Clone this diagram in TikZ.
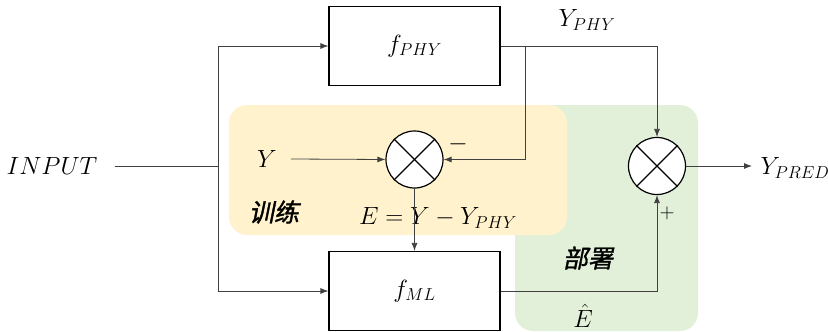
\documentclass[tikz,border=0pt]{standalone}
\usepackage{fontspec}
\newfontfamily\cjk[FakeSlant=0.2,AutoFakeBold=1.5]{Noto Sans CJK SC}
\usetikzlibrary{arrows.meta}
\definecolor{trainbg}{HTML}{FFF2CC}
\definecolor{deploybg}{HTML}{E2F0D9}
\definecolor{wire}{HTML}{404040}
\tikzset{
  blk/.style={draw=black,line width=1.2pt,minimum width=171pt,minimum height=79pt,inner sep=0pt,font=\fontsize{26}{30}\selectfont},
  mixer/.style={draw=black,line width=1.2pt,circle,minimum size=57pt,inner sep=0pt,fill=white},
  lbl/.style={inner sep=0pt,font=\fontsize{25}{29}\selectfont},
  cjklbl/.style={inner sep=0pt,font=\cjk\bfseries\fontsize{25}{29}\selectfont},
  wr/.style={draw=wire,line width=0.8pt},
  arr/.style={wr,-{Latex[length=8pt,width=6pt]}},
}
\begin{document}
\begin{tikzpicture}[x=1pt,y=-1pt]
\useasboundingbox (0,0) rectangle (828,332);
% background regions
\fill[deploybg,rounded corners=18pt] (515,105) rectangle (698,331);
\fill[trainbg,rounded corners=18pt] (229,105) rectangle (567,235);
% blocks
\node[blk] (fphy) at (414.5,46) {$f_{PHY}$};
\node[blk] (fml) at (414.5,291) {$f_{ML}$};
\node[mixer] (m1) at (414.5,159.5) {};
\node[mixer] (m2) at (657,166) {};
\foreach \m in {m1,m2}{
  \draw[line width=1.2pt] (\m.45) -- (\m.225);
  \draw[line width=1.2pt] (\m.135) -- (\m.-45);
}
% labels
\node[lbl] (inp) at (52,166) {$INPUT$};
\node[lbl] (y) at (267,159) {$Y$};
\node[lbl] (yphy) at (587,20) {$Y_{PHY}$};
\node[lbl] (ypred) at (795,168) {$Y_{PRED}$};
\node[lbl] (err) at (438,218) {$E = Y - Y_{PHY}$};
\node[lbl] (ehat) at (583,316) {$\hat{E}$};
\node[lbl] (minus) at (458,144) {$-$};
\node[lbl,font=\fontsize{20}{22}\selectfont] (plus) at (667,213) {$+$};
\node[cjklbl] (train) at (274,212) {训练};
\node[cjklbl] (deploy) at (588,258) {部署};
% coordinates
\coordinate (split) at (218,166);
\coordinate (tap) at (525,46);
\coordinate (pred) at (752,166);
% wires
\draw[wr] (inp.east) ++(17,0) -- (split);
\draw[arr] (split) |- (fphy.west);
\draw[arr] (split) |- (fml.west);
\draw[arr] (y.east) ++(14,0) -- (m1.west);
\draw[wr] (fphy.east) -- (tap);
\draw[arr] (tap) -| (m2.north);
\draw[arr] (tap) |- (m1.east);
\draw[arr] (m1.south) -- (fml.north);
\draw[arr] (fml.east) -| (m2.south);
\draw[arr] (m2.east) -- (pred);
\end{tikzpicture}
\end{document}
